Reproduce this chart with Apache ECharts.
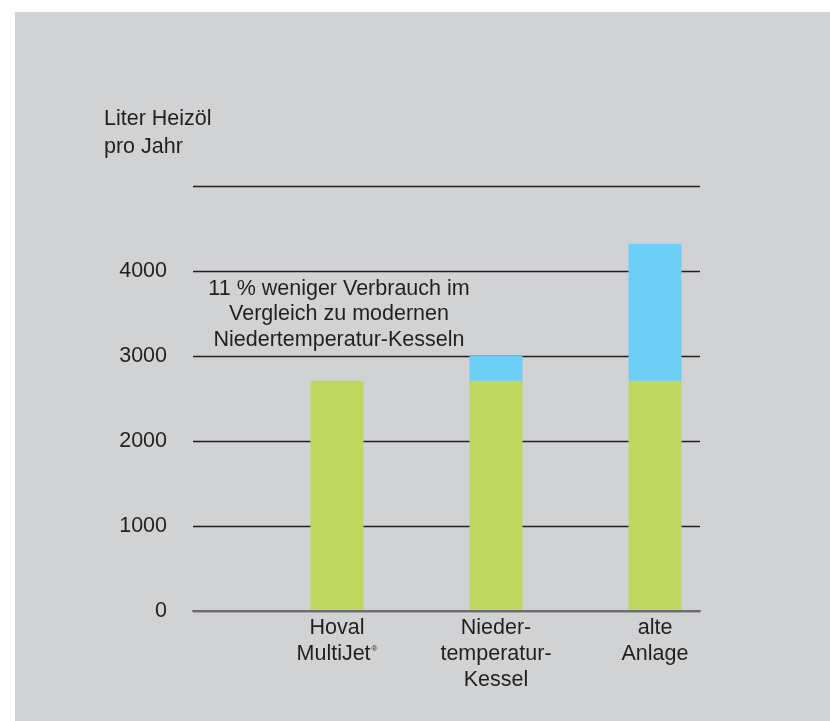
<!DOCTYPE html>
<html>
<head>
<meta charset="utf-8">
<script src="https://cdn.jsdelivr.net/npm/echarts@6/dist/echarts.min.js"></script>
<style>
  html, body { margin: 0; padding: 0; background: #fff; }
  #chart { width: 830px; height: 721px; }
</style>
</head>
<body>
<div id="chart"></div>
<script>
// values
const categories = ["Hoval\nMultiJet®", "Nieder-\ntemperatur-\nKessel", "alte\nAnlage"];
const baseConsumption = [2710, 2710, 2710];
const extraConsumption = [0, 290, 1610];
const yTicks = [0, 1000, 2000, 3000, 4000, 5000];
const note = "11 % weniger Verbrauch im\nVergleich zu modernen\nNiedertemperatur-Kesseln";

const font = "'Liberation Sans', Arial, sans-serif";
const ink = "#231f20";
const fontSize = 21.5;

function catLabel(value) {
  if (value.indexOf("®") >= 0) {
    const parts = value.replace("®", "").split("\n");
    return "{t|" + parts[0] + "}\n{t|" + parts[1] + "}{sup|®}";
  }
  return value.split("\n").map(s => "{t|" + s + "}").join("\n");
}

const chart = echarts.init(document.getElementById("chart"));

chart.setOption({
  backgroundColor: "#fff",
  animation: false,
  graphic: [
    {
      type: "rect",
      z: -10,
      shape: { x: 15, y: 12, width: 815, height: 709 },
      style: { fill: "#d1d2d4" }
    },
    {
      type: "text",
      left: 104,
      top: 105,
      style: {
        text: "Liter Heizöl\npro Jahr",
        font: fontSize + "px " + font,
        lineHeight: 28,
        fill: ink
      }
    },
    {
      type: "text",
      x: 339,
      y: 276,
      z: 10,
      style: {
        text: note,
        font: fontSize + "px " + font,
        lineHeight: 25.5,
        textAlign: "center",
        fill: ink
      }
    }
  ],
  grid: [
    { left: 193, right: 130, top: 186, bottom: 110 },
    { left: 257.5, right: 95.5, top: 186, bottom: 110 }
  ],
  xAxis: [
    {
      gridIndex: 0,
      type: "value",
      min: 0,
      max: 1,
      axisLine: { show: true, onZero: false, lineStyle: { color: "#6d6e71", width: 2 } },
      axisTick: { show: false },
      axisLabel: { show: false },
      splitLine: { show: false },
      z: 5
    },
    {
      gridIndex: 1,
      type: "category",
      data: categories,
      axisLine: { show: false },
      axisTick: { show: false },
      axisLabel: {
        margin: 4,
        interval: 0,
        formatter: catLabel,
        rich: {
          t: { fontFamily: font, fontSize: fontSize, color: ink, lineHeight: 26 },
          sup: { fontFamily: font, fontSize: 8, color: ink, lineHeight: 10, verticalAlign: "top", padding: [4, 0, 0, 1] }
        }
      }
    }
  ],
  yAxis: [
    {
      gridIndex: 0,
      type: "value",
      min: yTicks[0],
      max: yTicks[yTicks.length - 1],
      interval: 1000,
      axisLine: { show: false },
      axisTick: { show: false },
      axisLabel: {
        margin: 26,
        fontFamily: font,
        fontSize: fontSize,
        color: ink,
        padding: [5, 0, 0, 0],
        formatter: v => (v === yTicks[yTicks.length - 1] ? "" : String(v))
      },
      splitLine: { show: true, lineStyle: { color: ink, width: 1.3 } }
    },
    {
      gridIndex: 1,
      type: "value",
      min: yTicks[0],
      max: yTicks[yTicks.length - 1],
      interval: 1000,
      show: false,
      splitLine: { show: false }
    }
  ],
  series: [
    {
      type: "bar",
      xAxisIndex: 1,
      yAxisIndex: 1,
      stack: "total",
      barWidth: 53,
      data: baseConsumption,
      itemStyle: { color: "#bed85f" },
      z: 3
    },
    {
      type: "bar",
      xAxisIndex: 1,
      yAxisIndex: 1,
      stack: "total",
      barWidth: 53,
      data: extraConsumption,
      itemStyle: { color: "#6dcff6" },
      z: 3
    }
  ]
});
</script>
</body>
</html>
